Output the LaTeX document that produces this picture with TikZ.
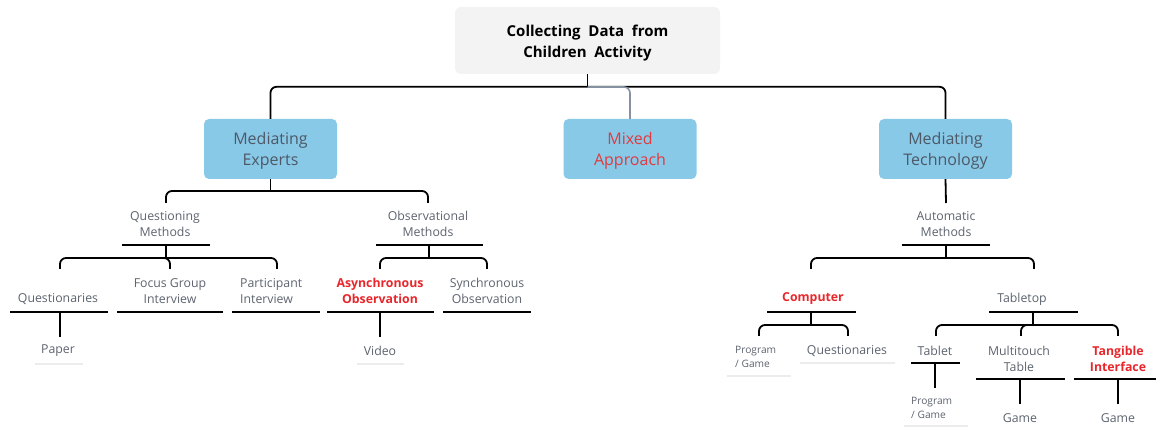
\documentclass[tikz,border=0pt]{standalone}
\usepackage{fontspec}
\setmainfont{Open Sans}
\definecolor{rootfill}{HTML}{F3F3F3}
\definecolor{boxblue}{HTML}{88C9E8}
\definecolor{boxtext}{HTML}{4E5866}
\definecolor{lblgray}{HTML}{5C636E}
\definecolor{hired}{HTML}{E8262B}
\definecolor{mixred}{HTML}{E03A3E}
\definecolor{mixline}{HTML}{8590A0}
\definecolor{faint}{HTML}{ECECEC}
\begin{document}
\begin{tikzpicture}[x=1pt,y=-1pt,
  rootbox/.style={fill=rootfill,rounded corners=6pt,minimum width=265pt,minimum height=67pt,align=center,inner sep=0pt,font=\fontsize{15}{21}\selectfont\bfseries,text=black},
  bluebox/.style={fill=boxblue,rounded corners=5pt,minimum width=133pt,minimum height=60pt,align=center,inner sep=0pt,font=\fontsize{16}{21}\selectfont,text=boxtext},
  lbl/.style={align=center,inner sep=0pt,font=\fontsize{12.3}{16}\selectfont,text=lblgray},
  lblred/.style={lbl,text=hired,font=\fontsize{12.3}{16}\selectfont\bfseries},
  smalllbl/.style={align=left,inner sep=0pt,font=\fontsize{10.2}{14}\selectfont,text=lblgray},
  conn/.style={draw=black,line width=1.8pt,rounded corners=6pt},
  mixconn/.style={draw=mixline,line width=1.6pt,rounded corners=6pt},
  ul/.style={draw=black,line width=1.8pt},
  faintul/.style={draw=faint,line width=1.5pt}
]
\useasboundingbox (0,0) rectangle (1156,427);

% root
\node[rootbox] (root) at (587.5,40.5) {\raisebox{-3pt}[\height][\depth]{\parbox{200pt}{\centering Collecting\ \ Data\ \ from\\Children\ \ Activity}}};
\node[bluebox] (me) at (270.5,149) {\raisebox{-2pt}[\height][\depth]{\parbox{120pt}{\centering Mediating\\Experts}}};
\node[bluebox,text=mixred] (ma) at (630,149) {\raisebox{-2pt}[\height][\depth]{\parbox{120pt}{\centering Mixed\\Approach}}};
\node[bluebox] (mt) at (945.5,149) {\raisebox{-2pt}[\height][\depth]{\parbox{120pt}{\centering Mediating\\Technology}}};

\coordinate (h1) at (587.5,87);
\draw[conn] (me.north) -- ++(0,-32) -| (mt.north);
\draw[conn] (root.south) -- (h1);
\draw[mixconn] (h1) -| (ma.north);

% ---------- Mediating Experts ----------
\coordinate (meh) at (270.5,191);
\draw[conn] (me.south) -- (meh);
\node[lbl] (qm) at (165,224) {Questioning\\Methods};
\node[lbl] (om) at (428,224) {Observational\\Methods};
\coordinate (qmt) at (166,203);
\coordinate (omt) at (428,203);
\draw[conn] (qmt) -- ++(0,-12) -| (omt);

% Questioning Methods underline and children
\draw[ul] (122,245) -- (210,245);
\coordinate (qmu) at (166,245);
\coordinate (qmh) at (166,258);
\draw[conn] (qmu) -- (qmh);
\coordinate (qc1) at (60,269);
\coordinate (qc2) at (170,269);
\coordinate (qc3) at (277,269);
\draw[conn] (qc1) -- ++(0,-11) -| (qc3);
\draw[conn] (qmh) -| (qc2);

\node[lbl] (quest) at (58,299) {Questionaries};
\node[lbl] (fgi) at (170,291) {Focus Group\\Interview};
\node[lbl,align=left,anchor=west] (pi) at (240,291) {Participant\\Interview};
\draw[ul] (10,312) -- (108,312);
\draw[ul] (117,312) -- (223,312);
\draw[ul] (232,312) -- (320,312);
\coordinate (questu) at (60,312);
\node[lbl] (paper) at (58,351) {Paper};
\draw[conn] (questu) -- (60,337);
\draw[faintul] (35,364) -- (83,364);

% Observational Methods underline and children
\draw[ul] (376,245) -- (483,245);
\coordinate (omu) at (429,245);
\coordinate (omh) at (429,258);
\draw[conn] (omu) -- (omh);
\coordinate (oc1) at (380,269);
\coordinate (oc2) at (487,269);
\draw[conn] (oc1) -- ++(0,-11) -| (oc2);
\node[lblred] (async) at (380,291) {Asynchronous\\Observation};
\node[lbl] (sync) at (487,291) {Synchronous\\Observation};
\draw[ul] (327,312) -- (434,312);
\draw[ul] (443,312) -- (531,312);
\coordinate (asyncu) at (380,312);
\node[lbl] (video) at (380,351) {Video};
\draw[conn] (asyncu) -- (380,337);
\draw[faintul] (357,364) -- (404,364);

% ---------- Mediating Technology ----------
\node[lbl] (am) at (946,224) {Automatic\\Methods};
\coordinate (amt) at (946,203);
\draw[conn] (mt.south) -- (amt);
\draw[ul] (902,245) -- (990,245);
\coordinate (amu) at (946,245);
\coordinate (amh) at (946,258);
\draw[conn] (amu) -- (amh);
\coordinate (ac1) at (811,269);
\coordinate (ac2) at (1034,269);
\draw[conn] (ac1) -- ++(0,-11) -| (ac2);

\node[lblred] (comp) at (813,299) {Computer};
\node[lbl] (table) at (1022,299) {Tabletop};
\draw[ul] (767,312) -- (856,312);
\draw[ul] (989,312) -- (1078,312);

% Computer children
\coordinate (compu) at (811,312);
\coordinate (comph) at (811,325);
\draw[conn] (compu) -- (comph);
\coordinate (cc1) at (759,336);
\coordinate (cc2) at (848,336);
\draw[conn] (cc1) -- ++(0,-11) -| (cc2);
\node[smalllbl,anchor=west] (pg1) at (735,357) {Program\\/ Game};
\node[lbl] (quest2) at (847,351) {Questionaries};
\draw[faintul] (727,376) -- (791,376);
\draw[faintul] (800,363) -- (895,363);

% Tabletop children
\coordinate (tabu) at (1033,312);
\coordinate (tabh) at (1033,325);
\draw[conn] (tabu) -- (tabh);
\coordinate (tc1) at (936,336);
\coordinate (tc2) at (1021,336);
\coordinate (tc3) at (1118,336);
\draw[conn] (tc1) -- ++(0,-11) -| (tc3);
\draw[conn] (tabh) -| (tc2);

\node[lbl] (tablet) at (935,351) {Tablet};
\node[lbl] (mtt) at (1019,359) {Multitouch\\Table};
\node[lblred] (ti) at (1118,359) {Tangible\\Interface};
\draw[ul] (911,363) -- (960,363);
\draw[ul] (976,379) -- (1065,379);
\draw[ul] (1074,379) -- (1156,379);

\coordinate (tabletu) at (935,363);
\draw[conn] (tabletu) -- (935,388);
\node[smalllbl,anchor=west] (pg2) at (911,408) {Program\\/ Game};
\draw[faintul] (904,426) -- (968,426);

\coordinate (mttu) at (1020,379);
\draw[conn] (mttu) -- (1020,404);
\node[lbl] (game1) at (1020,418) {Game};

\coordinate (tiu) at (1118,379);
\draw[conn] (tiu) -- (1118,404);
\node[lbl] (game2) at (1118,418) {Game};
\end{tikzpicture}
\end{document}
